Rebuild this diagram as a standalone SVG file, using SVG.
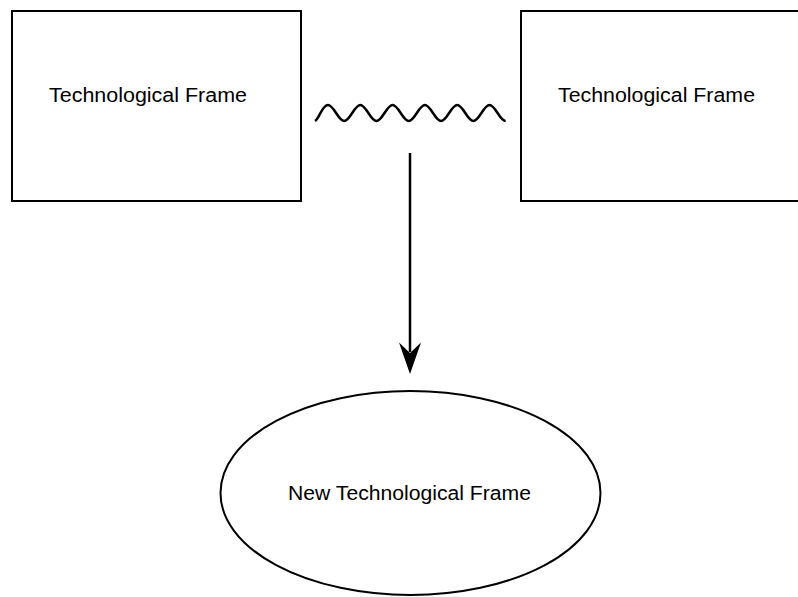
<svg xmlns="http://www.w3.org/2000/svg" width="798" height="597" viewBox="0 0 798 597">
<defs>
<style>
.box{fill:#fff;stroke:#000;stroke-width:2}
.lbl{font-family:"Liberation Sans",Arial,sans-serif;font-size:20px;fill:#000}
.conn{fill:none;stroke:#000;stroke-width:2.5}
</style>
</defs>
<rect width="798" height="597" fill="#fff"/>
<g id="frame-left">
<rect class="box" x="12" y="11" width="289" height="190"/>
<text class="lbl" x="49" y="102" textLength="198" lengthAdjust="spacingAndGlyphs">Technological Frame</text>
</g>
<g id="frame-right">
<rect class="box" x="521" y="11" width="300" height="190"/>
<text class="lbl" x="558" y="102" textLength="197" lengthAdjust="spacingAndGlyphs">Technological Frame</text>
</g>
<g id="frame-new">
<ellipse class="box" cx="410.5" cy="493" rx="190" ry="102"/>
<text class="lbl" x="288" y="500" textLength="243" lengthAdjust="spacingAndGlyphs">New Technological Frame</text>
</g>
<g id="connectors">
<path class="conn" stroke-linejoin="round" d="M315,121 C319,119 322.2,105 328,105 C333.81,105 338.34,121 344.15,121 S354.49,105 360.3,105 S370.64,121 376.45,121 S386.79,105 392.6,105 S402.94,121 408.75,121 S419.09,105 424.9,105 S435.24,121 441.05,121 S451.39,105 457.2,105 S467.54,121 473.35,121 S483.69,105 489.5,105 S499.84,121 505.65,121"/>
<line class="conn" x1="410" y1="153" x2="410" y2="352"/>
<polygon points="399,342.5 410,353 421,342.5 410,374" fill="#000"/>
</g>
</svg>
